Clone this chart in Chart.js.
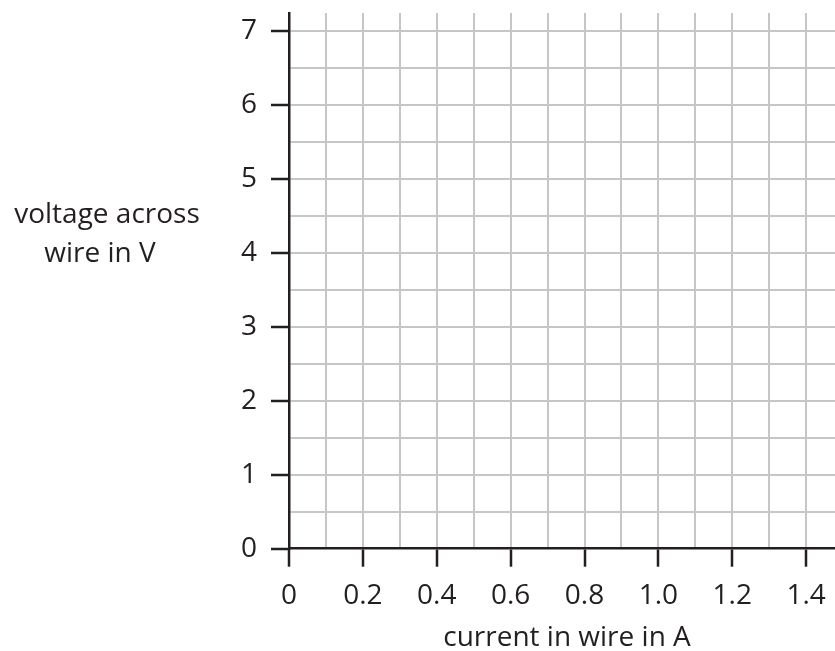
<!DOCTYPE html>
<html>
<head>
<meta charset="utf-8">
<script src="https://cdn.jsdelivr.net/npm/chart.js@4.4.0/dist/chart.umd.min.js"></script>
<style>
html, body { margin: 0; padding: 0; background: #fff; }
canvas { display: block; }
</style>
</head>
<body>
<canvas id="graph" width="835" height="651"></canvas>
<script>
// blank graph paper: only the axes and grid, nothing plotted yet
var xLabelValues = [0, 0.2, 0.4, 0.6, 0.8, 1.0, 1.2, 1.4];
var xLabels = ['0', '0.2', '0.4', '0.6', '0.8', '1.0', '1.2', '1.4'];
var yLabelValues = [0, 1, 2, 3, 4, 5, 6, 7];
var yLabels = ['0', '1', '2', '3', '4', '5', '6', '7'];
var readings = [];
var xTitle = 'current in wire in A';
var yTitle = ['voltage across', 'wire in V'];

var ink = '#231f20';
var gridGrey = '#c6c6c9';
var font = { family: 'Open Sans', size: 28 };

function labelFor(values, labels, v)
{
    for (var i = 0; i < values.length; i++)
        if (Math.abs(values[i] - v) < 1e-6) return labels[i];
    return '';
}

function isMajor(values, v)
{
    return labelFor(values, values.map(String), v) !== '';
}

var axisTitles = {
    id: 'axisTitles',
    afterDraw: function(chart)
    {
        var ctx = chart.ctx;
        ctx.save();
        ctx.fillStyle = ink;
        ctx.font = '28px "Open Sans"';
        ctx.textAlign = 'center';
        ctx.textBaseline = 'alphabetic';
        ctx.fillText(yTitle[0], 107, 223);
        ctx.fillText(yTitle[1], 100, 262);
        ctx.fillText(xTitle, 567, 646);
        ctx.restore();
    }
};

// the edge labels make Chart.js pad the plot area; the grid should run to the edges
function noEdgePadding(s)
{
    s.paddingTop = 0;
    s.paddingBottom = 0;
    s.paddingLeft = 0;
    s.paddingRight = 0;
}

var graph = new Chart(document.getElementById('graph'), {
    type: 'scatter',
    data: { datasets: [{ data: readings, pointRadius: 3, backgroundColor: ink }] },
    plugins: [axisTitles],
    options: {
        responsive: false,
        animation: false,
        layout: { padding: { top: 13, right: 0, left: 0, bottom: 0 } },
        plugins: { legend: { display: false }, tooltip: { enabled: false } },
        scales: {
            x: {
                type: 'linear',
                min: 0,
                max: 1.478,
                afterFit: function(s) { noEdgePadding(s); s.height = 102.3; },
                border: { color: ink, width: 2.5 },
                grid: {
                    color: function(c) { return c.tick && c.tick.value === 0 ? 'rgba(0,0,0,0)' : gridGrey; },
                    lineWidth: 2,
                    tickLength: 18,
                    tickWidth: 2.5,
                    tickColor: function(c) { return c.tick && isMajor(xLabelValues, c.tick.value) ? ink : 'rgba(0,0,0,0)'; }
                },
                ticks: {
                    stepSize: 0.1,
                    includeBounds: false,
                    autoSkip: false,
                    maxRotation: 0,
                    padding: 13,
                    color: ink,
                    font: font,
                    callback: function(v) { return labelFor(xLabelValues, xLabels, v); }
                }
            },
            y: {
                type: 'linear',
                min: 0,
                max: 7.25,
                afterFit: function(s) { noEdgePadding(s); s.width = 289; },
                border: { color: ink, width: 2.5 },
                grid: {
                    color: function(c) { return c.tick && c.tick.value === 0 ? 'rgba(0,0,0,0)' : gridGrey; },
                    lineWidth: 2,
                    tickLength: 18,
                    tickWidth: 2.5,
                    tickColor: function(c) { return c.tick && isMajor(yLabelValues, c.tick.value) ? ink : 'rgba(0,0,0,0)'; }
                },
                ticks: {
                    stepSize: 0.5,
                    includeBounds: false,
                    autoSkip: false,
                    padding: 14,
                    color: ink,
                    font: font,
                    callback: function(v) { return labelFor(yLabelValues, yLabels, v); }
                }
            }
        }
    }
});
</script>
</body>
</html>
